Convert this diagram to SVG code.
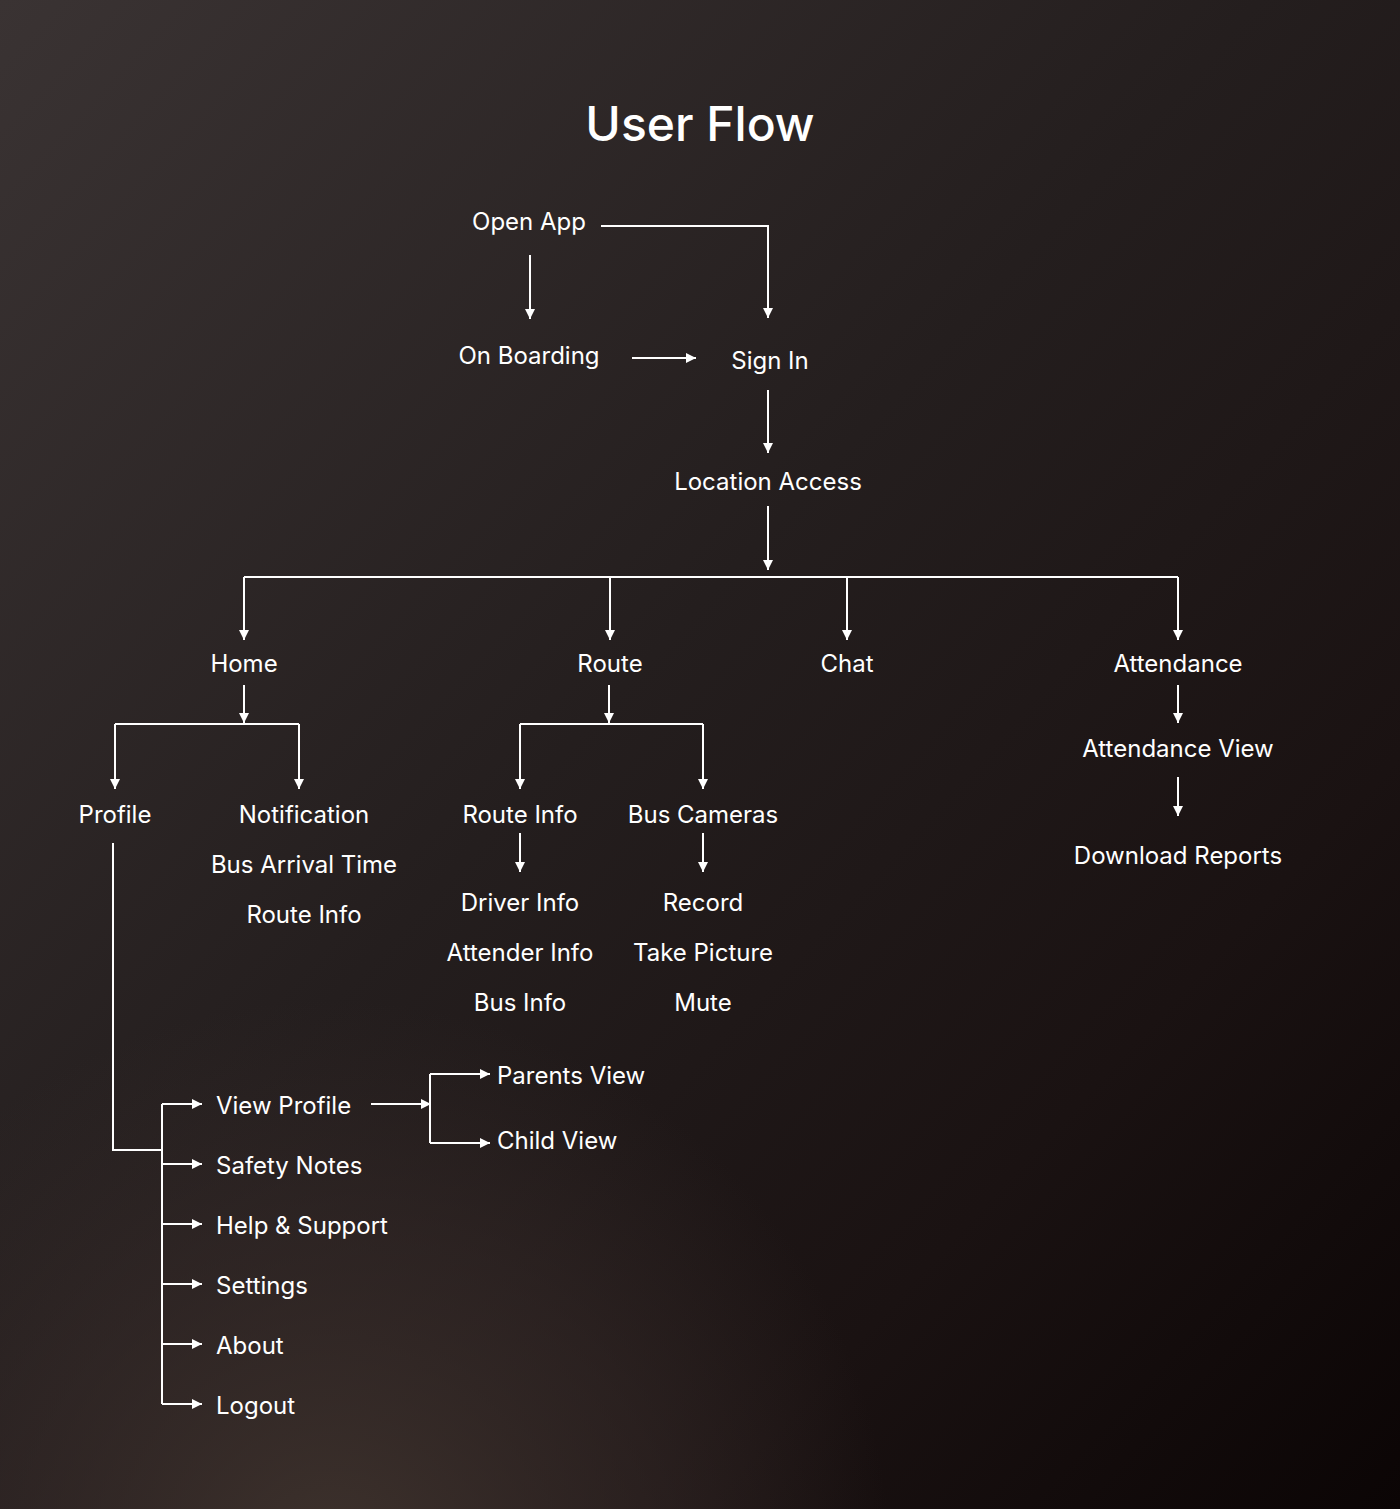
<svg xmlns="http://www.w3.org/2000/svg" width="1400" height="1509" viewBox="0 0 1400 1509">
<defs>
<linearGradient id="bg" x1="0" y1="0" x2="1" y2="1">
<stop offset="0" stop-color="#3a3333"/>
<stop offset="0.45" stop-color="#241e1e"/>
<stop offset="0.75" stop-color="#1a1212"/>
<stop offset="1" stop-color="#0b0505"/>
</linearGradient>
<radialGradient id="glow" cx="330" cy="1560" r="560" gradientUnits="userSpaceOnUse">
<stop offset="0" stop-color="#41352f" stop-opacity="0.9"/>
<stop offset="0.6" stop-color="#3a2e2c" stop-opacity="0.45"/>
<stop offset="1" stop-color="#3a2e2c" stop-opacity="0"/>
</radialGradient>
<marker id="ah" markerUnits="userSpaceOnUse" markerWidth="12" markerHeight="12" viewBox="0 0 12 12" refX="11" refY="6" orient="auto">
<path d="M1,1 L11,6 L1,11 Z" fill="#ffffff"/>
</marker>
<style>
text{font-family:Inter,"Open Sans","Liberation Sans",sans-serif;fill:#ffffff;font-size:24px}
.c{text-anchor:middle}
.t{font-size:48px;font-weight:500}
.ln{fill:none;stroke:#ffffff;stroke-width:2}
.ar{fill:none;stroke:#ffffff;stroke-width:2;marker-end:url(#ah)}
</style>
</defs>
<rect width="1400" height="1509" fill="url(#bg)"/>
<rect width="1400" height="1509" fill="url(#glow)"/>
<text class="c t" x="700" y="141">User Flow</text>
<g id="connectors">
<path class="ar" d="M601,226 H768 V318"/>
<path class="ar" d="M530,255 V319"/>
<path class="ar" d="M632,358 H696"/>
<path class="ar" d="M768,390 V453"/>
<path class="ar" d="M768,506 V570"/>
<path class="ln" d="M244,577 H1178"/>
<path class="ar" d="M244,577 V640"/>
<path class="ar" d="M610,577 V640"/>
<path class="ar" d="M847,577 V640"/>
<path class="ar" d="M1178,577 V640"/>
<path class="ar" d="M244,685 V723"/>
<path class="ln" d="M115,724 H299"/>
<path class="ar" d="M115,724 V789"/>
<path class="ar" d="M299,724 V789"/>
<path class="ar" d="M609,685 V723"/>
<path class="ln" d="M520,724 H703"/>
<path class="ar" d="M520,724 V789"/>
<path class="ar" d="M703,724 V789"/>
<path class="ar" d="M520,833 V872"/>
<path class="ar" d="M703,833 V872"/>
<path class="ar" d="M1178,685 V723"/>
<path class="ar" d="M1178,777 V816"/>
<path class="ln" d="M113,843 V1150 H162"/>
<path class="ln" d="M162,1104 V1404"/>
<path class="ar" d="M162,1104 H202"/>
<path class="ar" d="M162,1164 H202"/>
<path class="ar" d="M162,1224 H202"/>
<path class="ar" d="M162,1284 H202"/>
<path class="ar" d="M162,1344 H202"/>
<path class="ar" d="M162,1404 H202"/>
<path class="ar" d="M371,1104 H431"/>
<path class="ln" d="M430,1074 V1143"/>
<path class="ar" d="M430,1074 H490"/>
<path class="ar" d="M430,1143 H490"/>
</g>
<g id="n-open-app"><text class="c" x="529" y="230">Open App</text></g>
<g id="n-on-boarding"><text class="c" x="529" y="364">On Boarding</text></g>
<g id="n-sign-in"><text class="c" x="770" y="369">Sign In</text></g>
<g id="n-location-access"><text class="c" x="768" y="490">Location Access</text></g>
<g id="n-home"><text class="c" x="244" y="672">Home</text></g>
<g id="n-route"><text class="c" x="610" y="672">Route</text></g>
<g id="n-chat"><text class="c" x="847" y="672">Chat</text></g>
<g id="n-attendance"><text class="c" x="1178" y="672">Attendance</text></g>
<g id="n-profile"><text class="c" x="115" y="823">Profile</text></g>
<g id="n-notification"><text class="c" x="304" y="823">Notification</text><text class="c" x="304" y="873">Bus Arrival Time</text><text class="c" x="304" y="923">Route Info</text></g>
<g id="n-route-info"><text class="c" x="520" y="823">Route Info</text></g>
<g id="n-bus-cameras"><text class="c" x="703" y="823">Bus Cameras</text></g>
<g id="n-driver-info"><text class="c" x="520" y="911">Driver Info</text><text class="c" x="520" y="961">Attender Info</text><text class="c" x="520" y="1011">Bus Info</text></g>
<g id="n-record"><text class="c" x="703" y="911">Record</text><text class="c" x="703" y="961">Take Picture</text><text class="c" x="703" y="1011">Mute</text></g>
<g id="n-attendance-view"><text class="c" x="1178" y="757">Attendance View</text></g>
<g id="n-download-reports"><text class="c" x="1178" y="864">Download Reports</text></g>
<g id="n-view-profile"><text x="216" y="1114">View Profile</text></g>
<g id="n-safety-notes"><text x="216" y="1174">Safety Notes</text></g>
<g id="n-help-support"><text x="216" y="1234">Help &amp; Support</text></g>
<g id="n-settings"><text x="216" y="1294">Settings</text></g>
<g id="n-about"><text x="216" y="1354">About</text></g>
<g id="n-logout"><text x="216" y="1414">Logout</text></g>
<g id="n-parents-view"><text x="497" y="1084">Parents View</text></g>
<g id="n-child-view"><text x="497" y="1149">Child View</text></g>
</svg>
